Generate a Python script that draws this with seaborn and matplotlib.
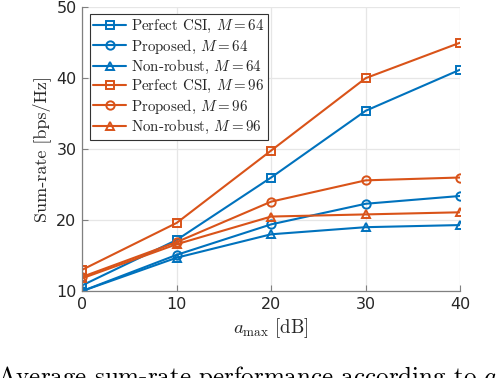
import numpy as np
import pandas as pd
import matplotlib
matplotlib.use("Agg")
import matplotlib.pyplot as plt
import seaborn as sns

# x axis: a_max in dB
a_max = [0, 10, 20, 30, 40]

perfect_64 = [10.8, 17.2, 26.0, 35.4, 41.2]
proposed_64 = [10.0, 15.1, 19.4, 22.3, 23.4]
nonrobust_64 = [10.0, 14.7, 18.0, 19.0, 19.3]
perfect_96 = [13.0, 19.6, 29.8, 40.0, 45.0]
proposed_96 = [12.0, 16.9, 22.6, 25.6, 26.0]
nonrobust_96 = [11.8, 16.6, 20.5, 20.8, 21.1]

labels = [
    r"Perfect CSI, $M=64$",
    r"Proposed, $M=64$",
    r"Non-robust, $M=64$",
    r"Perfect CSI, $M=96$",
    r"Proposed, $M=96$",
    r"Non-robust, $M=96$",
]
series = [perfect_64, proposed_64, nonrobust_64, perfect_96, proposed_96, nonrobust_96]
markers = ["s", "o", "^", "s", "o", "^"]
blue, orange = "#0072BD", "#D95319"
colors = [blue, blue, blue, orange, orange, orange]

sns.set_style("whitegrid")
plt.rcParams["mathtext.fontset"] = "cm"
plt.rcParams["axes.unicode_minus"] = False

fig = plt.figure(figsize=(5.04, 3.78), dpi=100)
ax = fig.add_axes([0.163, 0.230, 0.750, 0.751])

for lab, vals, mk, col in zip(labels, series, markers, colors):
    df = pd.DataFrame({"x": a_max, "y": vals})
    sns.lineplot(data=df, x="x", y="y", ax=ax, color=col, marker=mk,
                 markersize=6, markerfacecolor="none", markeredgecolor=col,
                 markeredgewidth=1.4, linewidth=1.5, label=lab)

ax.set_xlim(0, 40)
ax.set_ylim(10, 50)
ax.set_xticks([0, 10, 20, 30, 40])
ax.set_yticks([10, 20, 30, 40, 50])
ax.grid(True, color="#e6e6e6", linewidth=0.9)
for s in ["top", "right"]:
    ax.spines[s].set_visible(False)
for s in ["left", "bottom"]:
    ax.spines[s].set_color("#808080")
    ax.spines[s].set_linewidth(0.9)
ax.tick_params(axis="both", direction="in", length=4, color="#808080",
               labelsize=11.5, labelcolor="#262626", pad=4, left=True, bottom=True)

ax.set_xlabel(r"$a_{\max}$ [dB]", family="cmr10", fontsize=13.5, color="#262626", labelpad=3)
ax.set_ylabel("Sum-rate [bps/Hz]", family="cmr10", fontsize=13, color="#262626", labelpad=4)

leg = ax.legend(loc="upper left", bbox_to_anchor=(0.012, 0.985), frameon=True,
                fancybox=False, edgecolor="#333333", framealpha=1,
                prop={"family": "cmr10", "size": 10.8}, handlelength=2.2,
                labelspacing=0.15, borderpad=0.25, handletextpad=0.3,
                borderaxespad=0.2)
leg.get_frame().set_linewidth(0.8)

fig.text(-0.005, -0.035, r"Average sum-rate performance according to $a$",
         family="cmr10", fontsize=18, color="black", ha="left", va="bottom")

fig.savefig("out.png", dpi=100)
